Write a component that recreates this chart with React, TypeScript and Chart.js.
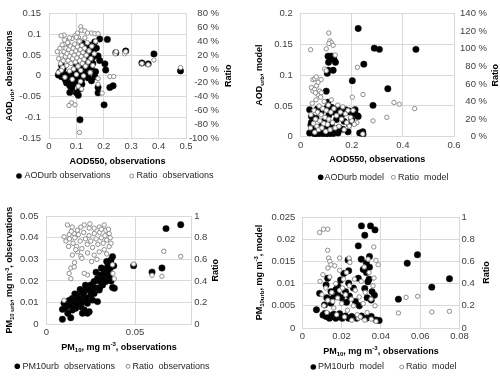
import React, { useEffect, useRef } from "react";
import { Chart, registerables } from "chart.js";

Chart.register(...registerables);

type Pt = [number, number];
type Seg = { t: string; s?: "sub" | "sup" };

const FONT = "'Liberation Sans', Arial, Helvetica, sans-serif";
Chart.defaults.font.family = FONT;

// ---------- Panel (a) ----------
const aXTicks = [0, 0.1, 0.2, 0.3, 0.4, 0.5];
const aYTicks = [-0.15, -0.1, -0.05, 0, 0.05, 0.1, 0.15];
const aRTicks = [-100, -80, -60, -40, -20, 0, 20, 40, 60, 80];
const aUrbObs: Pt[] = [
  [0.213, 0.088], [0.185, 0.089], [0.167, 0.082], [0.173, 0.067], [0.161, 0.06], [0.149, 0.052],
  [0.125, 0.063], [0.131, 0.071], [0.137, 0.076], [0.121, 0.079],
  [0.113, 0.052], [0.125, 0.044], [0.141, 0.044], [0.159, 0.044], [0.179, 0.048], [0.185, 0.037],
  [0.204, 0.029], [0.207, 0.014], [0.28, 0.06], [0.244, 0.056], [0.339, 0.031], [0.362, 0.029],
  [0.383, 0.053], [0.48, 0.012],
  [0.143, 0.014], [0.155, 0.021], [0.1, 0.025], [0.119, 0.018], [0.131, 0.01],
  [0.04, 0.01], [0.034, 0.002], [0.046, -0.002], [0.058, -0.005], [0.076, -0.005], [0.1, -0.009],
  [0.119, -0.009], [0.143, -0.005], [0.167, -0.002],
  [0.064, -0.017], [0.076, -0.024], [0.088, -0.021], [0.07, -0.013],
  [0.076, -0.04], [0.1, -0.041], [0.107, -0.047], [0.113, -0.032],
  [0.179, -0.041], [0.179, -0.028], [0.222, -0.028], [0.234, -0.024],
  [0.201, -0.07], [0.113, -0.106],
  [0.052, 0.018], [0.046, 0.025], [0.082, 0.006], [0.107, 0.002], [0.131, 0.002],
  [0.05, 0.005], [0.062, 0.003], [0.09, 0.0], [0.11, 0.008], [0.128, 0.03], [0.138, 0.056],
  [0.118, 0.066], [0.15, 0.074], [0.16, 0.03], [0.17, 0.01], [0.095, -0.015], [0.083, -0.03],
  [0.12, -0.02], [0.155, -0.012], [0.06, -0.01], [0.145, 0.034], [0.092, 0.015], [0.105, -0.003],
];
const aRatioObs: Pt[] = [
  [0.116, 61], [0.119, 56], [0.055, 49], [0.044, 48], [0.104, 52], [0.131, 55], [0.141, 52],
  [0.155, 52], [0.167, 51], [0.179, 51], [0.095, 48], [0.107, 46], [0.131, 45], [0.113, 41],
  [0.064, 39], [0.07, 37], [0.058, 36],
  [0.179, -14], [0.222, -11], [0.236, -11], [0.194, -35], [0.082, -49], [0.073, -53], [0.095, -52],
  [0.111, -92], [0.242, 22], [0.276, 22], [0.107, -25], [0.119, -29], [0.179, -22], [0.034, -5],
  [0.339, 8], [0.362, 6], [0.383, 13], [0.48, 2], [0.28, 25], [0.245, 25],
  [0.03, 25], [0.035, 15], [0.04, 30], [0.042, 8], [0.045, 20], [0.048, 35], [0.05, 2], [0.052, 12],
  [0.055, 25], [0.057, 42], [0.06, 18], [0.062, 30], [0.065, 5], [0.066, 22], [0.068, 38], [0.07, 12],
  [0.072, 28], [0.075, -3], [0.076, 18], [0.078, 33], [0.08, 8], [0.082, 24], [0.084, 44], [0.086, 15],
  [0.088, 30], [0.09, 0], [0.092, 20], [0.094, 36], [0.096, 10], [0.098, 26], [0.1, -8], [0.102, 16],
  [0.104, 32], [0.106, 4], [0.108, 22], [0.11, 40], [0.112, 12], [0.114, 28], [0.116, -2], [0.118, 18],
  [0.12, 34], [0.122, 8], [0.124, 24], [0.126, -10], [0.128, 14], [0.13, 30], [0.133, 4], [0.136, 20],
  [0.14, 38], [0.143, 10], [0.146, 26], [0.15, -5], [0.153, 15], [0.156, 33], [0.16, 5], [0.165, 22],
  [0.17, 40], [0.058, -12], [0.085, -15], [0.115, -18], [0.045, -2], [0.075, 45], [0.1, 46],
];

// ---------- Panel (b) ----------
const bXTicks = [0, 0.2, 0.4, 0.6];
const bYTicks = [0, 0.05, 0.1, 0.15, 0.2];
const bRTicks = [0, 20, 40, 60, 80, 100, 120, 140];
const bUrbModel: Pt[] = [
  [0.225, 0.176], [0.288, 0.144], [0.308, 0.142], [0.451, 0.142],
  [0.107, 0.131], [0.12, 0.131], [0.13, 0.126], [0.109, 0.121], [0.136, 0.121], [0.115, 0.128],
  [0.107, 0.108], [0.127, 0.108], [0.104, 0.103],
  [0.247, 0.118], [0.202, 0.091], [0.341, 0.078], [0.283, 0.051], [0.1, 0.074],
  [0.213, 0.044], [0.222, 0.034], [0.243, 0.008], [0.185, 0.008], [0.106, 0.056],
  [0.035, 0.006], [0.055, 0.004], [0.081, 0.005], [0.107, 0.004], [0.146, 0.006], [0.231, 0.006],
  [0.244, 0.004], [0.065, 0.003], [0.095, 0.003], [0.125, 0.004],
  [0.1, 0.046], [0.12, 0.048], [0.14, 0.046], [0.16, 0.045], [0.175, 0.044], [0.19, 0.042],
  [0.2, 0.038], [0.211, 0.038], [0.225, 0.033],
  [0.035, 0.044], [0.042, 0.033], [0.042, 0.023], [0.048, 0.013], [0.04, 0.019],
  [0.06, 0.03], [0.07, 0.015], [0.08, 0.04], [0.09, 0.025], [0.1, 0.012], [0.11, 0.035], [0.12, 0.02],
  [0.13, 0.04], [0.14, 0.028], [0.15, 0.015], [0.16, 0.035], [0.17, 0.025], [0.18, 0.04], [0.19, 0.02],
  [0.065, 0.045], [0.075, 0.008], [0.115, 0.045], [0.135, 0.01], [0.155, 0.043], [0.165, 0.012],
  [0.2, 0.028], [0.085, 0.02], [0.145, 0.036],
];
const bRatioModel: Pt[] = [
  [0.11, 118], [0.039, 99], [0.114, 109], [0.12, 107], [0.127, 104], [0.11, 106], [0.1, 100], [0.135, 93],
  [0.222, 79], [0.094, 77], [0.1, 75], [0.048, 65], [0.055, 66], [0.061, 68], [0.08, 65],
  [0.202, 45], [0.244, 48], [0.042, 56], [0.048, 52], [0.055, 54], [0.068, 48], [0.074, 52], [0.081, 50],
  [0.283, 18], [0.365, 39], [0.386, 37], [0.446, 32], [0.337, 22], [0.22, 16], [0.243, 3],
  [0.038, 10], [0.04, 25], [0.045, 38], [0.05, 15], [0.052, 30], [0.055, 5], [0.058, 20], [0.06, 42],
  [0.063, 12], [0.066, 28], [0.07, 8], [0.072, 35], [0.075, 18], [0.078, 45], [0.08, 25], [0.083, 10],
  [0.086, 32], [0.09, 15], [0.092, 40], [0.095, 22], [0.098, 6], [0.1, 30], [0.105, 14], [0.108, 36],
  [0.11, 20], [0.115, 8], [0.118, 28], [0.12, 42], [0.125, 16], [0.13, 32], [0.135, 10], [0.14, 24],
  [0.145, 36], [0.15, 12], [0.155, 28], [0.16, 20], [0.165, 34], [0.17, 8], [0.175, 26], [0.18, 16],
  [0.185, 30], [0.19, 12], [0.195, 22], [0.2, 18], [0.205, 30], [0.21, 14], [0.062, 58], [0.068, 62],
  [0.058, 50],
];

// ---------- Panel (c) ----------
const cXTicks = [0, 0.05];
const cXMax = 0.082;
const cYTicks = [0, 0.01, 0.02, 0.03, 0.04, 0.05];
const cRTicks = [0, 0.2, 0.4, 0.6, 0.8, 1];
const cUrbObs: Pt[] = [
  [0.009, 0.0022], [0.0137, 0.0029], [0.009, 0.0068], [0.0109, 0.0077],
  [0.0128, 0.0088], [0.0156, 0.0096], [0.0175, 0.0104], [0.0194, 0.0111],
  [0.0146, 0.0065], [0.0165, 0.0073], [0.0194, 0.008], [0.0213, 0.0065], [0.0241, 0.0057],
  [0.0175, 0.0135], [0.0203, 0.015], [0.0222, 0.0158], [0.0231, 0.0173], [0.025, 0.0181],
  [0.0269, 0.0197], [0.0288, 0.0212], [0.0307, 0.0228], [0.0326, 0.0251], [0.0345, 0.0266],
  [0.0354, 0.0282], [0.0364, 0.0297], [0.0373, 0.0313],
  [0.0146, 0.0119], [0.0165, 0.0127], [0.0118, 0.0104], [0.0099, 0.0096],
  [0.0213, 0.0119], [0.025, 0.0135], [0.0269, 0.0142], [0.0298, 0.0158], [0.0317, 0.0181],
  [0.0335, 0.0197], [0.0354, 0.022],
  [0.0383, 0.0166], [0.0373, 0.017], [0.026, 0.0111], [0.0288, 0.0104], [0.0194, 0.0088],
  [0.0231, 0.0096], [0.0203, 0.005], [0.0231, 0.005],
  [0.0492, 0.0271], [0.0596, 0.0241], [0.0652, 0.026], [0.0675, 0.0443], [0.0758, 0.0461],
  [0.012, 0.005], [0.015, 0.008], [0.018, 0.012], [0.021, 0.014], [0.024, 0.016], [0.027, 0.017],
  [0.03, 0.02], [0.033, 0.023], [0.036, 0.026], [0.028, 0.024], [0.031, 0.026], [0.034, 0.029],
  [0.017, 0.009], [0.02, 0.01], [0.023, 0.012], [0.026, 0.015], [0.022, 0.018], [0.019, 0.016],
  [0.032, 0.021], [0.035, 0.024], [0.03, 0.017], [0.038, 0.027], [0.0365, 0.02], [0.016, 0.014],
  [0.013, 0.011],
];
const cRatioObs: Pt[] = [
  [0.0118, 0.92], [0.0099, 0.81], [0.0128, 0.83], [0.0156, 0.84], [0.0175, 0.87], [0.0194, 0.9],
  [0.0213, 0.92], [0.0241, 0.89], [0.0269, 0.89], [0.0298, 0.9], [0.0326, 0.92], [0.0335, 0.87],
  [0.0354, 0.84],
  [0.0146, 0.64], [0.0175, 0.67], [0.0194, 0.63], [0.0232, 0.66], [0.0269, 0.64], [0.0298, 0.67],
  [0.0326, 0.69], [0.0354, 0.72], [0.0364, 0.75],
  [0.0137, 0.52], [0.0156, 0.53], [0.0128, 0.47], [0.0232, 0.455], [0.0213, 0.47], [0.0099, 0.22],
  [0.0373, 0.55], [0.0383, 0.42], [0.0375, 0.47],
  [0.0492, 0.557], [0.0596, 0.452], [0.0652, 0.443], [0.0662, 0.675], [0.0758, 0.628],
  [0.011, 0.77], [0.013, 0.79], [0.014, 0.86], [0.015, 0.75], [0.016, 0.8], [0.017, 0.72],
  [0.018, 0.83], [0.019, 0.77], [0.02, 0.7], [0.021, 0.85], [0.022, 0.79], [0.023, 0.74],
  [0.024, 0.82], [0.025, 0.77], [0.026, 0.71], [0.027, 0.84], [0.028, 0.79], [0.029, 0.74],
  [0.03, 0.85], [0.031, 0.8], [0.032, 0.75], [0.033, 0.82], [0.034, 0.78], [0.035, 0.88],
  [0.036, 0.8], [0.0165, 0.69], [0.0125, 0.72], [0.02, 0.61], [0.0285, 0.6], [0.034, 0.65],
  [0.0145, 0.9], [0.0245, 0.93], [0.031, 0.88], [0.0158, 0.57], [0.0255, 0.58], [0.0138, 0.42],
];

// ---------- Panel (d) ----------
const dXTicks = [0, 0.02, 0.04, 0.06, 0.08];
const dYTicks = [0, 0.005, 0.01, 0.015, 0.02, 0.025];
const dRTicks = [0, 0.2, 0.4, 0.6, 0.8, 1];
const dUrbModel: Pt[] = [
  [0.0301, 0.023], [0.0347, 0.023], [0.037, 0.0221], [0.0318, 0.0209], [0.0285, 0.0185],
  [0.0342, 0.0161], [0.0233, 0.0153], [0.0326, 0.0146], [0.0342, 0.0137], [0.031, 0.0132],
  [0.0236, 0.0129], [0.0326, 0.0125], [0.0285, 0.0112], [0.0334, 0.0104], [0.0129, 0.0112],
  [0.0236, 0.0101], [0.0318, 0.0089], [0.0195, 0.0108], [0.0211, 0.0123], [0.0121, 0.0097],
  [0.0088, 0.0078], [0.0146, 0.0082], [0.017, 0.0086], [0.022, 0.0082], [0.0072, 0.0041],
  [0.0113, 0.0052], [0.0146, 0.0056], [0.0351, 0.0063], [0.0367, 0.0074],
  [0.0105, 0.0029], [0.0121, 0.0026], [0.0138, 0.0022], [0.0154, 0.0027], [0.017, 0.0022],
  [0.0187, 0.0026], [0.0203, 0.0022], [0.0219, 0.0027], [0.0236, 0.0022], [0.0252, 0.0026],
  [0.0277, 0.0022], [0.0301, 0.0027], [0.0326, 0.0022], [0.0351, 0.0026], [0.0375, 0.0018],
  [0.0391, 0.0017], [0.0115, 0.0033], [0.013, 0.003], [0.016, 0.0031], [0.019, 0.0032],
  [0.0145, 0.0025],
  [0.0489, 0.0065], [0.0534, 0.0146], [0.0586, 0.0165], [0.0659, 0.0092], [0.0749, 0.0111],
  [0.016, 0.007], [0.018, 0.0075], [0.02, 0.0068], [0.024, 0.0072], [0.026, 0.009], [0.018, 0.0095],
  [0.015, 0.0065], [0.027, 0.006], [0.029, 0.005], [0.033, 0.0068], [0.0355, 0.0082],
  [0.0225, 0.0058], [0.0125, 0.0068], [0.034, 0.011], [0.03, 0.0155],
];
const dRatioModel: Pt[] = [
  [0.0088, 0.86], [0.0108, 0.89], [0.0129, 0.89], [0.0129, 0.7], [0.0134, 0.63], [0.014, 0.6],
  [0.0146, 0.57], [0.013, 0.54], [0.019, 0.63], [0.0238, 0.63], [0.0242, 0.59], [0.0364, 0.73],
  [0.0375, 0.61], [0.0386, 0.57],
  [0.0528, 0.276], [0.0587, 0.285], [0.0489, 0.135], [0.0659, 0.144], [0.0749, 0.15],
  [0.0252, 0.07], [0.0285, 0.09], [0.0318, 0.07], [0.0351, 0.08], [0.0375, 0.06],
  [0.009, 0.42], [0.01, 0.3], [0.011, 0.2], [0.012, 0.36], [0.013, 0.25], [0.014, 0.46],
  [0.015, 0.32], [0.016, 0.18], [0.017, 0.4], [0.018, 0.27], [0.019, 0.34], [0.02, 0.22],
  [0.021, 0.44], [0.022, 0.3], [0.023, 0.16], [0.024, 0.38], [0.025, 0.26], [0.026, 0.2],
  [0.027, 0.34], [0.028, 0.12], [0.029, 0.28], [0.03, 0.42], [0.031, 0.22], [0.032, 0.32],
  [0.033, 0.14], [0.034, 0.5], [0.035, 0.26], [0.036, 0.38], [0.037, 0.2], [0.0155, 0.24],
  [0.0175, 0.12], [0.0205, 0.36], [0.0125, 0.14], [0.0225, 0.5], [0.0265, 0.44], [0.0315, 0.55],
  [0.0105, 0.48], [0.019, 0.52], [0.0295, 0.1], [0.0365, 0.45], [0.0335, 0.62], [0.0215, 0.1],
  [0.0165, 0.56],
];

// ---------- drawing helpers ----------
const GRID = "#d9d9d9";
const TICK = "#404040";

function fmt(v: number): string {
  return String(parseFloat(Number(v).toFixed(4)));
}

function drawRich(ctx: CanvasRenderingContext2D, segs: Seg[], cx: number, cy: number, rot: number, size: number) {
  const big = `bold ${size}px ${FONT}`;
  const small = `bold ${Math.round(size * 0.7)}px ${FONT}`;
  ctx.save();
  ctx.translate(cx, cy);
  ctx.rotate(rot);
  let w = 0;
  for (const s of segs) {
    ctx.font = s.s ? small : big;
    w += ctx.measureText(s.t).width;
  }
  let x = -w / 2;
  ctx.textBaseline = "middle";
  ctx.textAlign = "left";
  ctx.fillStyle = "#000";
  for (const s of segs) {
    ctx.font = s.s ? small : big;
    const dy = s.s === "sub" ? size * 0.3 : s.s === "sup" ? -size * 0.35 : 0;
    ctx.fillText(s.t, x, dy);
    x += ctx.measureText(s.t).width;
  }
  ctx.restore();
}

interface Layout {
  yW: number; rW: number; rFar: boolean; rPad: number; padR: number; padT: number; xH: number;
  yPad: number; xPad: number;
  leftX: number; rightX: number; bottomY: number;
  legY: number; legBlackX: number; legBlackTextX: number; legWhiteX: number; legWhiteTextX: number;
}

interface PanelDef {
  left: number; top: number;
  black: Pt[]; white: Pt[];
  blackLabel: string; whiteLabel: string;
  xTicks: number[]; xMax: number;
  yTicks: number[]; rTicks: number[]; rPct: boolean;
  leftTitle: Seg[]; bottomTitle: Seg[];
  L: Layout;
}

function makeTitles(p: PanelDef) {
  return {
    id: "richTitlesLegend",
    afterDraw(chart: any) {
      const { ctx, chartArea: a } = chart;
      const L = p.L;
      const midY = (a.top + a.bottom) / 2;
      const midX = (a.left + a.right) / 2;
      drawRich(ctx, p.leftTitle, L.leftX, midY, -Math.PI / 2, 9);
      drawRich(ctx, [{ t: "Ratio" }], L.rightX, midY, -Math.PI / 2, 9);
      drawRich(ctx, p.bottomTitle, midX, L.bottomY, 0, 9);
      // legend, styled from the two datasets
      const ds = chart.data.datasets;
      ctx.save();
      ctx.beginPath();
      ctx.arc(L.legBlackX, L.legY, 2.8, 0, Math.PI * 2);
      ctx.fillStyle = ds[0].backgroundColor;
      ctx.fill();
      ctx.beginPath();
      ctx.arc(L.legWhiteX, L.legY, 2, 0, Math.PI * 2);
      ctx.fillStyle = ds[1].backgroundColor;
      ctx.fill();
      ctx.lineWidth = 1;
      ctx.strokeStyle = ds[1].borderColor;
      ctx.stroke();
      ctx.font = `9px ${FONT}`;
      ctx.fillStyle = "#262626";
      ctx.textBaseline = "middle";
      ctx.textAlign = "left";
      ctx.fillText(ds[0].label, L.legBlackTextX, L.legY);
      ctx.fillText(ds[1].label, L.legWhiteTextX, L.legY);
      ctx.restore();
    },
  };
}

function buildConfig(p: PanelDef): any {
  const L = p.L;
  const tickFont = { family: FONT, size: 9.5 };
  return {
    type: "scatter",
    data: {
      datasets: [
        {
          label: p.blackLabel,
          data: p.black.map(([x, y]) => ({ x, y })),
          yAxisID: "y",
          order: 1,
          pointStyle: "circle",
          pointRadius: 3.2,
          pointHoverRadius: 3.2,
          backgroundColor: "#000",
          borderColor: "#111",
          borderWidth: 0.5,
        },
        {
          label: p.whiteLabel,
          data: p.white.map(([x, y]) => ({ x, y })),
          yAxisID: "y1",
          order: 0,
          pointStyle: "circle",
          pointRadius: 2.2,
          pointHoverRadius: 2.2,
          backgroundColor: "#fff",
          borderColor: "#8c8c8c",
          borderWidth: 1,
        },
      ],
    },
    options: {
      responsive: false,
      animation: false,
      events: [],
      layout: { padding: { left: 0, right: L.padR, top: L.padT, bottom: 0 } },
      scales: {
        x: {
          type: "linear",
          position: "bottom",
          min: p.xTicks[0],
          max: p.xMax,
          afterBuildTicks: (s: any) => { s.ticks = p.xTicks.map((v) => ({ value: v })); },
          afterFit: (s: any) => { s.height = L.xH; },
          grid: { color: GRID, drawTicks: false, lineWidth: 1 },
          border: { color: GRID },
          ticks: { font: tickFont, color: TICK, padding: L.xPad, maxRotation: 0, autoSkip: false, callback: (v: number) => fmt(v) },
        },
        y: {
          type: "linear",
          position: "left",
          min: p.yTicks[0],
          max: p.yTicks[p.yTicks.length - 1],
          afterBuildTicks: (s: any) => { s.ticks = p.yTicks.map((v) => ({ value: v })); },
          afterFit: (s: any) => { s.width = L.yW; },
          grid: { color: GRID, drawTicks: false, lineWidth: 1 },
          border: { color: GRID },
          ticks: { font: tickFont, color: TICK, padding: L.yPad, autoSkip: false, callback: (v: number) => fmt(v) },
        },
        y1: {
          type: "linear",
          position: "right",
          min: p.rTicks[0],
          max: p.rTicks[p.rTicks.length - 1],
          afterBuildTicks: (s: any) => { s.ticks = p.rTicks.map((v) => ({ value: v })); },
          afterFit: (s: any) => { s.width = L.rW; },
          grid: { display: false, drawTicks: false },
          border: { color: GRID },
          ticks: {
            font: tickFont, color: TICK, crossAlign: L.rFar ? "far" : "near", padding: L.rPad, autoSkip: false,
            callback: (v: number) => (p.rPct ? `${Math.round(v)} %` : fmt(v)),
          },
        },
      },
      plugins: {
        legend: { display: false },
        tooltip: { enabled: false },
      },
    },
    plugins: [makeTitles(p)],
  };
}

const panels: PanelDef[] = [
  {
    left: 0, top: 0,
    black: aUrbObs, white: aRatioObs,
    blackLabel: "AODurb observations", whiteLabel: "Ratio  observations",
    xTicks: aXTicks, xMax: 0.5, yTicks: aYTicks, rTicks: aRTicks, rPct: true,
    leftTitle: [{ t: "AOD" }, { t: "urb", s: "sub" }, { t: ", observations" }],
    bottomTitle: [{ t: "AOD550, observations" }],
    L: {
      yW: 49, rW: 33, rFar: true, rPad: 2, padR: 31, padT: 11, xH: 50, yPad: 8, xPad: 3,
      leftX: 10, rightX: 228.5, bottomY: 162,
      legY: 176, legBlackX: 19, legBlackTextX: 24.5, legWhiteX: 131.7, legWhiteTextX: 136.5,
    },
  },
  {
    left: 250, top: 0,
    black: bUrbModel, white: bRatioModel,
    blackLabel: "AODurb model", whiteLabel: "Ratio  model",
    xTicks: bXTicks, xMax: 0.6, yTicks: bYTicks, rTicks: bRTicks, rPct: true,
    leftTitle: [{ t: "AOD" }, { t: "urb", s: "sub" }, { t: ", model" }],
    bottomTitle: [{ t: "AOD550, observations" }],
    L: {
      yW: 50.7, rW: 33, rFar: true, rPad: 2, padR: 13, padT: 6.7, xH: 51.3, yPad: 8, xPad: 3,
      leftX: 10, rightX: 246, bottomY: 160,
      legY: 177.3, legBlackX: 70.7, legBlackTextX: 74.5, legWhiteX: 143.3, legWhiteTextX: 148,
    },
  },
  {
    left: 0, top: 188,
    black: cUrbObs, white: cRatioObs,
    blackLabel: "PM10urb  observations", whiteLabel: "Ratio  observations",
    xTicks: cXTicks, xMax: cXMax, yTicks: cYTicks, rTicks: cRTicks, rPct: false,
    leftTitle: [{ t: "PM" }, { t: "10 urb", s: "sub" }, { t: ", mg m" }, { t: "-3", s: "sup" }, { t: ", observations" }],
    bottomTitle: [{ t: "PM" }, { t: "10", s: "sub" }, { t: ", mg m" }, { t: "-3", s: "sup" }, { t: ", observations" }],
    L: {
      yW: 46.5, rW: 20, rFar: false, rPad: 2.5, padR: 38.3, padT: 28.3, xH: 52, yPad: 8, xPad: 3,
      leftX: 10, rightX: 216, bottomY: 159.5,
      legY: 178.3, legBlackX: 17.3, legBlackTextX: 22.5, legWhiteX: 128, legWhiteTextX: 132.5,
    },
  },
  {
    left: 250, top: 188,
    black: dUrbModel, white: dRatioModel,
    blackLabel: "PM10urb  model", whiteLabel: "Ratio  model",
    xTicks: dXTicks, xMax: 0.08, yTicks: dYTicks, rTicks: dRTicks, rPct: false,
    leftTitle: [{ t: "PM" }, { t: "10urb", s: "sub" }, { t: ", mg m" }, { t: "-3", s: "sup" }, { t: ", model" }],
    bottomTitle: [{ t: "PM" }, { t: "10", s: "sub" }, { t: ", mg m" }, { t: "-3", s: "sup" }, { t: ", observations" }],
    L: {
      yW: 52.3, rW: 20, rFar: false, rPad: 2, padR: 20.5, padT: 29, xH: 48, yPad: 7, xPad: 3,
      leftX: 9.5, rightX: 237, bottomY: 163.3,
      legY: 179, legBlackX: 63.3, legBlackTextX: 68, legWhiteX: 151.7, legWhiteTextX: 156,
    },
  },
];

function Panel({ p }: { p: PanelDef }) {
  const ref = useRef<HTMLCanvasElement>(null);
  useEffect(() => {
    if (!ref.current) return;
    const chart = new Chart(ref.current, buildConfig(p));
    return () => chart.destroy();
  }, [p]);
  return (
    <canvas
      ref={ref}
      width={250}
      height={188}
      style={{ position: "absolute", left: p.left, top: p.top, width: 250, height: 188 }}
    />
  );
}

export default function App() {
  return (
    <div style={{ position: "fixed", left: 0, top: 0, width: 500, height: 376, overflow: "hidden", background: "#fff" }}>
      {panels.map((p, i) => (
        <Panel key={i} p={p} />
      ))}
    </div>
  );
}
